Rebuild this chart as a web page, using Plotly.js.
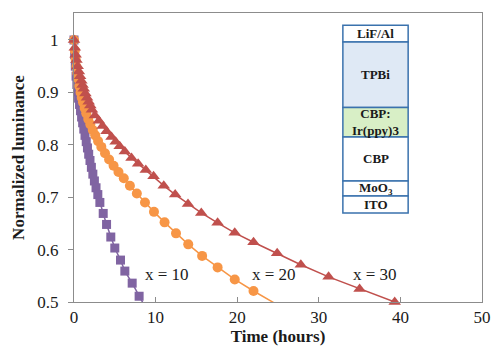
<!DOCTYPE html>
<html>
<head>
<meta charset="utf-8">
<script src="https://cdn.plot.ly/plotly-3.0.1.min.js"></script>
<style>html,body{margin:0;padding:0;background:#fff;}#chart{width:491px;height:355px;}</style>
</head>
<body>
<div id="chart"></div>
<script>
// Series x = 10 (purple squares)
const timeX10 = [0, 0.08, 0.16, 0.25, 0.35, 0.45, 0.56, 0.68, 0.8, 0.93, 1.06, 1.2, 1.35, 1.5, 1.65, 1.8, 1.96, 2.13, 2.31, 2.5, 2.7, 2.92, 3.17, 3.58, 3.99, 4.51, 5.0, 5.7, 6.23, 7.13, 7.98];
const lumX10  = [1.0, 0.972, 0.95, 0.931, 0.915, 0.901, 0.889, 0.877, 0.865, 0.853, 0.842, 0.83, 0.818, 0.806, 0.794, 0.782, 0.77, 0.757, 0.744, 0.731, 0.718, 0.705, 0.69, 0.669, 0.648, 0.624, 0.603, 0.58, 0.559, 0.536, 0.511];
// Series x = 20 (orange circles)
const timeX20 = [0, 0.1, 0.2, 0.3, 0.4, 0.5, 0.65, 0.8, 0.95, 1.1, 1.3, 1.5, 1.75, 2.0, 2.3, 2.6, 2.95, 3.35, 3.8, 4.3, 4.85, 5.45, 6.1, 6.85, 7.7, 8.7, 9.8, 11.1, 12.5, 14.0, 15.7, 17.6, 19.7, 22.0];
const lumX20  = [1.0, 0.98, 0.963, 0.949, 0.937, 0.926, 0.912, 0.9, 0.89, 0.881, 0.87, 0.86, 0.849, 0.839, 0.828, 0.818, 0.807, 0.796, 0.784, 0.772, 0.76, 0.748, 0.736, 0.722, 0.707, 0.69, 0.672, 0.652, 0.631, 0.61, 0.588, 0.566, 0.543, 0.521];
// Series x = 30 (red triangles)
const timeX30 = [0, 0.1, 0.2, 0.3, 0.45, 0.6, 0.75, 0.9, 1.05, 1.2, 1.4, 1.6, 1.8, 2.0, 2.2, 2.56, 3.05, 3.5, 3.99, 4.6, 5.1, 5.6, 6.23, 7.05, 7.86, 8.8, 9.75, 11.0, 12.4, 13.97, 15.6, 17.6, 19.7, 22.0, 24.9, 27.8, 31.2, 35.0, 39.3];
const lumX30  = [1.0, 0.985, 0.972, 0.962, 0.95, 0.94, 0.931, 0.922, 0.914, 0.907, 0.898, 0.89, 0.882, 0.875, 0.867, 0.856, 0.846, 0.836, 0.826, 0.815, 0.806, 0.797, 0.787, 0.775, 0.764, 0.752, 0.74, 0.722, 0.705, 0.687, 0.67, 0.651, 0.632, 0.614, 0.593, 0.571, 0.548, 0.525, 0.5];
// trend lines continue a little past the last measured point (clipped by the axis)
const lineEndX10 = [8.6, 0.494];
const lineEndX20 = [25.0, 0.494];
const lineEndX30 = [40.5, 0.494];

const seriesLabels = ['x = 10', 'x = 20', 'x = 30'];
const labelPosT = [11.4, 24.5, 36.9];
const labelPosL = [0.553, 0.553, 0.553];

const yTickVals = [0.5, 0.6, 0.7, 0.8, 0.9, 1];
const yTickText = ['0.5', '0.6', '0.7', '0.8', '0.9', '1'];
const xTickVals = [0, 10, 20, 30, 40, 50];
const xTickText = ['0', '10', '20', '30', '40', '50'];

const stackLayers = ['LiF/Al', 'TPBi', 'CBP:<br>Ir(ppy)3', 'CBP', 'MoO<sub>3</sub>', 'ITO'];

const colors = ['#8064a2', '#f79646', '#c0504d'];
const symbols = ['square', 'circle', 'triangle-up'];
const sizes = [9, 10, 11];
const serif = '"Liberation Serif", "Times New Roman", serif';

const T = [timeX10, timeX20, timeX30];
const L = [lumX10, lumX20, lumX30];
const E = [lineEndX10, lineEndX20, lineEndX30];

const traces = [];
for (let i = 0; i < 3; i++) {
  traces.push({
    x: T[i].concat([E[i][0]]), y: L[i].concat([E[i][1]]),
    mode: 'lines', type: 'scatter', showlegend: false, hoverinfo: 'skip',
    line: {color: colors[i], width: 1.5}
  });
}
for (let i = 0; i < 3; i++) {
  traces.push({
    x: T[i], y: L[i], mode: 'markers', type: 'scatter', showlegend: false,
    cliponaxis: false, name: seriesLabels[i],
    marker: {color: colors[i], symbol: symbols[i], size: sizes[i], line: {width: 0}}
  });
}

// inset device stack (paper coordinates)
const bx0 = 0.659, bx1 = 0.819;
const bounds = [0.958, 0.900, 0.673, 0.571, 0.419, 0.367, 0.308];
const fills = ['#ffffff', '#dfe9f5', '#d8efc6', '#ffffff', '#ffffff', '#ffffff'];
const shapes = [];
const annotations = [];
for (let k = 0; k < stackLayers.length; k++) {
  shapes.push({type: 'rect', xref: 'paper', yref: 'paper', x0: bx0, x1: bx1,
    y0: bounds[k + 1], y1: bounds[k], fillcolor: fills[k],
    line: {color: '#3a72ad', width: 1.5}, layer: 'above'});
  annotations.push({xref: 'paper', yref: 'paper', x: (bx0 + bx1) / 2,
    y: (bounds[k] + bounds[k + 1]) / 2, text: '<b>' + stackLayers[k] + '</b>',
    showarrow: false, xanchor: 'center', yanchor: 'middle',
    font: {family: serif, size: 13, color: '#1a1a1a'}});
}
for (let i = 0; i < 3; i++) {
  annotations.push({x: labelPosT[i], y: labelPosL[i], xref: 'x', yref: 'y',
    text: seriesLabels[i], showarrow: false, xanchor: 'center', yanchor: 'middle',
    font: {family: serif, size: 17, color: '#1a1a1a'}});
}

const layout = {
  width: 491, height: 355,
  margin: {l: 74, r: 9, t: 13, b: 53},
  paper_bgcolor: '#ffffff', plot_bgcolor: '#ffffff',
  font: {family: serif, size: 17, color: '#1a1a1a'},
  xaxis: {
    range: [0, 50], tickvals: xTickVals, ticktext: xTickText,
    showgrid: false, zeroline: false, showline: true, mirror: true,
    linecolor: '#8c8c8c', linewidth: 1, ticks: 'inside', ticklen: 5, tickcolor: '#8c8c8c',
    tickfont: {family: serif, size: 17, color: '#1a1a1a'},
    title: {text: '<b>Time (hours)</b>', font: {family: serif, size: 17, color: '#1a1a1a'}, standoff: 3}
  },
  yaxis: {
    range: [0.5, 1.0515], tickvals: yTickVals, ticktext: yTickText,
    showgrid: false, zeroline: false, showline: true, mirror: true,
    linecolor: '#8c8c8c', linewidth: 1, ticks: 'outside', ticklen: 5, tickcolor: '#8c8c8c',
    ticklabelstandoff: 6,
    tickfont: {family: serif, size: 17, color: '#1a1a1a'},
    title: {text: '<b>Normalized luminance</b>', font: {family: serif, size: 17, color: '#1a1a1a'}, standoff: 8}
  },
  shapes: shapes,
  annotations: annotations
};

Plotly.newPlot('chart', traces, layout, {displayModeBar: false, staticPlot: true});
</script>
</body>
</html>
